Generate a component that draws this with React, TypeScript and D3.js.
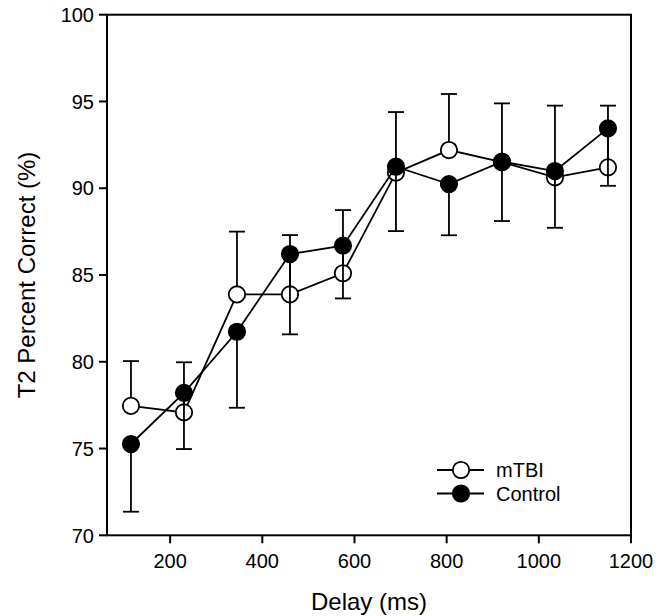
import React from "react";
import * as d3 from "d3";

const delays = [115, 230, 345, 460, 575, 690, 805, 920, 1035, 1150];
const mtbiValues = [77.46, 77.08, 83.88, 83.88, 85.1, 90.9, 92.2, 91.5, 90.63, 91.2];
const mtbiErrUpper = [80.04, 79.97, 87.5, 87.3, 88.74, 94.39, 95.43, 94.89, 94.76, 94.76];
const controlValues = [75.26, 78.21, 81.73, 86.21, 86.69, 91.24, 90.24, 91.53, 90.99, 93.45];
const controlErrLower = [71.36, 74.97, 77.35, 81.58, 83.65, 87.53, 87.29, 88.11, 87.72, 90.14];
const xTicks = [200, 400, 600, 800, 1000, 1200];
const yTicks = [70, 75, 80, 85, 90, 95, 100];
const seriesNames = ["mTBI", "Control"];

const W = 666;
const H = 616;
const L = 107, R = 631, T = 14.7, B = 535.3;
const FONT = "'Liberation Sans', Arial, Helvetica, sans-serif";

export default function App() {
  const x = d3.scaleLinear().domain([63, 1200]).range([L, R]);
  const y = d3.scaleLinear().domain([70, 100]).range([B, T]);
  const line = d3.line<[number, number]>().x(d => x(d[0])).y(d => y(d[1]));
  const r = 8.2;
  const cap = 8;
  const sw = 1.8;
  const aw = 2;

  const mtbiPts = delays.map((d, i) => [d, mtbiValues[i]] as [number, number]);
  const ctrlPts = delays.map((d, i) => [d, controlValues[i]] as [number, number]);

  const errBar = (d: number, v: number, e: number, key: string) => (
    <g key={key} stroke="#000" strokeWidth={sw}>
      <line x1={x(d)} x2={x(d)} y1={y(v)} y2={y(e)} />
      <line x1={x(d) - cap} x2={x(d) + cap} y1={y(e)} y2={y(e)} />
    </g>
  );

  const legX1 = 437, legX2 = 484, legC = 461, legTx = 496;
  const legY = [470, 493.5];

  return (
    <svg width={W} height={H} style={{ position: "absolute", left: 0, top: 0, background: "#fff" }}>
      <rect x={0} y={0} width={W} height={H} fill="#fff" />
      <g stroke="#000" strokeWidth={aw} fill="none">
        <rect x={L} y={T} width={R - L} height={B - T} />
      </g>
      <g fontFamily={FONT} fontSize={20} fill="#000">
        {yTicks.map(t => (
          <g key={"y" + t}>
            <line x1={L - 8} x2={L} y1={y(t)} y2={y(t)} stroke="#000" strokeWidth={aw} />
            <text x={L - 13} y={y(t)} dy="0.36em" textAnchor="end">{t}</text>
          </g>
        ))}
        {xTicks.map(t => (
          <g key={"x" + t}>
            <line x1={x(t)} x2={x(t)} y1={B} y2={B + 8} stroke="#000" strokeWidth={aw} />
            <text x={x(t)} y={568} textAnchor="middle">{t}</text>
          </g>
        ))}
      </g>
      <text x={(L + R) / 2} y={610} textAnchor="middle" fontFamily={FONT} fontSize={24}>Delay (ms)</text>
      <text transform={`translate(35, ${(T + B) / 2}) rotate(-90)`} textAnchor="middle" fontFamily={FONT} fontSize={24}>T2 Percent Correct (%)</text>

      <path d={line(mtbiPts) || ""} fill="none" stroke="#000" strokeWidth={sw} />
      {delays.map((d, i) => errBar(d, mtbiValues[i], mtbiErrUpper[i], "me" + i))}
      {mtbiPts.map((p, i) => (
        <circle key={"mc" + i} cx={x(p[0])} cy={y(p[1])} r={r} fill="#fff" stroke="#000" strokeWidth={sw} />
      ))}

      <path d={line(ctrlPts) || ""} fill="none" stroke="#000" strokeWidth={sw} />
      {delays.map((d, i) => errBar(d, controlValues[i], controlErrLower[i], "ce" + i))}
      {ctrlPts.map((p, i) => (
        <circle key={"cc" + i} cx={x(p[0])} cy={y(p[1])} r={r} fill="#000" stroke="#000" strokeWidth={sw} />
      ))}

      {seriesNames.map((n, i) => (
        <g key={"leg" + i}>
          <line x1={legX1} x2={legX2} y1={legY[i]} y2={legY[i]} stroke="#000" strokeWidth={sw} />
          <circle cx={legC} cy={legY[i]} r={r} fill={i === 0 ? "#fff" : "#000"} stroke="#000" strokeWidth={sw} />
          <text x={legTx} y={legY[i]} dy="0.36em" fontFamily={FONT} fontSize={20}>{n}</text>
        </g>
      ))}
    </svg>
  );
}
